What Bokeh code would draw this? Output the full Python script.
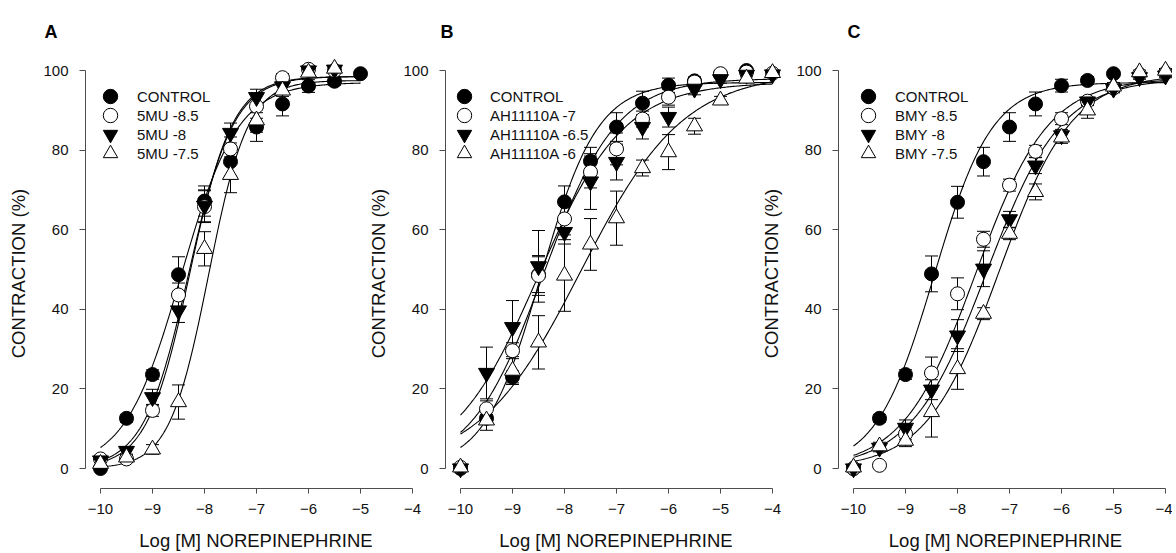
import numpy as np
from bokeh.plotting import figure
from bokeh.models import (ColumnDataSource, Whisker, TeeHead, Legend, LegendItem,
                          FixedTicker, Range1d)
from bokeh.layouts import row
from bokeh.embed import file_html
from bokeh.resources import INLINE

# ---------------- data ----------------
LOG_NE = [-10, -9.5, -9, -8.5, -8, -7.5, -7, -6.5, -6, -5.5, -5, -4.5, -4]
X_TICKS = [-10, -9, -8, -7, -6, -5, -4]
Y_TICKS = [0, 20, 40, 60, 80, 100]

# Panel A : 5MU
A_labels = ["CONTROL", "5MU -8.5", "5MU -8", "5MU -7.5"]
A_ctrl = [0.0, 12.6, 23.6, 48.7, 67.2, 77.1, 85.8, 91.6, 96.1, 97.3, 99.2]
A_ctrl_err = [0.5, 1.0, 1.2, 4.5, 3.8, 3.6, 3.6, 3.0, 1.6, 1.0, 0.5]
A_5mu_85 = [2.4, 2.4, 14.6, 43.6, 65.8, 80.3, 91.0, 98.2, 100.3, 100.0]
A_5mu_85_err = [0.5, 0.8, 1.5, 3.0, 4.0, 3.0, 3.0, 1.0, 1.0, 0.5]
A_5mu_8 = [2.0, 4.4, 17.9, 39.7, 66.0, 84.3, 93.3, 96.0, 100.0, 100.2]
A_5mu_8_err = [0.5, 1.0, 2.0, 3.0, 4.0, 2.5, 2.0, 1.5, 1.0, 0.5]
A_5mu_75 = [1.2, 2.8, 4.8, 16.7, 55.2, 73.8, 87.5, 95.0, 99.5, 100.5]
A_5mu_75_err = [0.5, 0.8, 1.2, 4.3, 4.3, 4.5, 3.0, 1.5, 1.0, 0.5]
# fitted sigmoid parameters: top, log EC50, slope
A_fit_top = [97.0, 98.5, 98.5, 97.5]
A_fit_ec50 = [-8.45, -8.30, -8.28, -7.92]
A_fit_slope = [0.80, 1.00, 1.05, 1.15]

# Panel B : AH11110A
B_labels = ["CONTROL", "AH11110A -7", "AH11110A -6.5", "AH11110A -6"]
B_ctrl = [0.0, 12.6, 23.0, 48.7, 67.0, 77.2, 85.8, 91.8, 96.3, 97.4, 99.0, 100.0]
B_ctrl_err = [0.5, 1.0, 1.5, 4.5, 4.0, 3.5, 3.6, 3.0, 1.8, 1.0, 0.5, 0.5]
B_ah_7 = [0.3, 15.0, 29.6, 48.5, 62.7, 74.5, 80.3, 87.8, 93.3, 97.1, 99.2, 99.6, 99.3]
B_ah_7_err = [0.5, 2.0, 2.0, 5.0, 4.0, 4.0, 4.0, 2.0, 2.0, 1.0, 0.5, 0.5, 0.5]
B_ah_65 = [0.0, 24.0, 35.5, 50.8, 59.4, 72.1, 77.0, 85.8, 88.3, 95.4, 97.8, 98.9, 99.0]
B_ah_65_err = [0.5, 6.5, 6.7, 9.0, 3.0, 7.0, 4.5, 3.0, 2.5, 1.5, 1.0, 0.5, 0.5]
B_ah_6 = [0.3, 12.1, 24.6, 31.7, 48.5, 56.3, 62.9, 75.5, 79.5, 86.0, 92.5, 98.0, 99.4]
B_ah_6_err = [0.5, 2.5, 3.5, 6.7, 9.0, 6.5, 6.8, 2.0, 4.4, 2.0, 1.0, 1.0, 0.5]
B_fit_top = [97.0, 98.0, 97.0, 99.5]
B_fit_ec50 = [-8.45, -8.40, -8.50, -7.68]
B_fit_slope = [0.80, 0.62, 0.53, 0.44]

# Panel C : BMY
C_labels = ["CONTROL", "BMY -8.5", "BMY -8", "BMY -7.5"]
C_ctrl = [0.0, 12.6, 23.6, 48.9, 66.9, 77.1, 85.8, 91.6, 96.2, 97.5, 99.2]
C_ctrl_err = [0.5, 1.0, 1.2, 4.5, 4.0, 3.6, 3.6, 3.0, 1.6, 1.0, 0.5]
C_bmy_85 = [0.0, 0.8, 8.7, 24.0, 43.9, 57.6, 71.2, 79.7, 87.9, 92.3, 95.6, 99.0, 99.4]
C_bmy_85_err = [0.5, 0.5, 1.5, 4.0, 4.0, 2.0, 1.5, 1.5, 1.5, 1.0, 1.0, 0.5, 0.5]
C_bmy_8 = [0.0, 5.2, 10.2, 19.8, 33.4, 50.2, 62.6, 76.1, 83.7, 92.2, 95.4, 98.3, 98.7]
C_bmy_8_err = [0.5, 1.0, 2.0, 2.5, 4.0, 4.5, 2.0, 2.0, 1.5, 1.0, 1.0, 0.5, 0.5]
C_bmy_75 = [0.3, 5.6, 7.0, 14.2, 25.0, 38.9, 59.0, 69.5, 83.2, 90.0, 96.0, 99.6, 100.0]
C_bmy_75_err = [0.5, 1.0, 1.5, 6.3, 5.1, 1.5, 1.5, 2.0, 1.5, 2.0, 1.0, 0.5, 0.5]
C_fit_top = [97.0, 98.0, 98.0, 99.0]
C_fit_ec50 = [-8.45, -7.65, -7.45, -7.20]
C_fit_slope = [0.78, 0.62, 0.60, 0.62]

# ---------------- styling ----------------
FONT = "Liberation Sans"
MARKERS = [("circle", "black", 14), ("circle", "white", 14),
           ("inverted_triangle", "black", 16), ("triangle", "white", 16)]
AXIS_COLOR = "#4d4d4d"
X_START = -10.2885
PX_PER_X = 52.0
Y_START = -5.025
Y_END = 103.02
BORDER_LEFT = 85
LEGEND_ROW_VY = [374, 355, 336, 317]


def sigmoid(x, top, ec50, slope):
    return top / (1.0 + 10 ** ((ec50 - x) * slope))


def make_panel(letter, title_offset, frame_w, margin_left, labels, series, errors,
               fit_top, fit_ec50, fit_slope, fit_end, legend_dx, legend_standoff):
    x_end = X_START + frame_w / PX_PER_X
    p = figure(width=BORDER_LEFT + frame_w, height=553,
               x_range=Range1d(X_START, x_end), y_range=Range1d(Y_START, Y_END),
               output_backend="svg", toolbar_location=None,
               min_border_left=BORDER_LEFT, min_border_right=0,
               min_border_top=58, min_border_bottom=65,
               background_fill_color=None, border_fill_color=None, outline_line_color=None,
               margin=(0, 0, 0, margin_left))
    p.title.text = letter
    p.title.align = "left"
    p.title.offset = title_offset
    p.title.standoff = 33
    p.title.text_font = FONT
    p.title.text_font_size = "18px"
    p.title.text_font_style = "bold"
    p.title.text_color = "black"

    p.xgrid.visible = False
    p.ygrid.visible = False
    for ax in (p.xaxis[0], p.yaxis[0]):
        ax.axis_line_color = AXIS_COLOR
        ax.major_tick_line_color = AXIS_COLOR
        ax.minor_tick_line_color = None
        ax.major_tick_in = 0
        ax.major_tick_out = 6
        ax.major_label_text_font = FONT
        ax.major_label_text_font_size = "15px"
        ax.major_label_text_color = "#111111"
        ax.axis_label_text_font = FONT
        ax.axis_label_text_font_size = "18.5px"
        ax.axis_label_text_font_style = "normal"
        ax.axis_label_text_color = "#111111"
    p.xaxis.bounds = (-10, -4)
    p.yaxis.bounds = (0, 100)
    p.xaxis.ticker = FixedTicker(ticks=X_TICKS)
    p.yaxis.ticker = FixedTicker(ticks=Y_TICKS)
    p.xaxis.major_tick_out = 5
    p.xaxis.major_label_standoff = 10
    p.yaxis.major_label_standoff = 11
    p.xaxis.axis_label_standoff = 13
    p.yaxis.axis_label_standoff = 11
    p.xaxis.axis_label = "Log [M] NOREPINEPHRINE"
    p.yaxis.axis_label = "CONTRACTION (%)"

    # fitted curves
    for top, ec50, slope in zip(fit_top, fit_ec50, fit_slope):
        xs = np.linspace(-10, fit_end, 240)
        p.line(xs, sigmoid(xs, top, ec50, slope), line_color="black", line_width=1.1)

    # error bars
    for ys, es in zip(series, errors):
        n = len(ys)
        src = ColumnDataSource(dict(x=LOG_NE[:n],
                                    upper=[y + e for y, e in zip(ys, es)],
                                    lower=[y - e for y, e in zip(ys, es)]))
        w = Whisker(source=src, base="x", upper="upper", lower="lower",
                    line_color="black", line_width=1,
                    upper_head=TeeHead(size=13, line_color="black", line_width=1),
                    lower_head=TeeHead(size=13, line_color="black", line_width=1))
        p.add_layout(w)

    # markers
    renderers = []
    for ys, (mk, fill, size) in zip(series, MARKERS):
        n = len(ys)
        r = p.scatter(LOG_NE[:n], ys, marker=mk, size=size, fill_color=fill,
                      line_color="black", line_width=1)
        renderers.append(r)

    # one single-entry legend per row (keeps large legend glyphs at tight row pitch)
    for lab, r, vy in zip(labels, renderers, LEGEND_ROW_VY):
        legend = Legend(items=[LegendItem(label=lab, renderers=[r])],
                        location=(legend_dx, vy), orientation="vertical",
                        glyph_width=36, glyph_height=36, spacing=0, padding=0, margin=0,
                        label_standoff=legend_standoff, label_text_font=FONT,
                        label_text_font_size="15px", label_text_color="#111111",
                        background_fill_alpha=0, border_line_color=None)
        p.add_layout(legend)
    return p


pA = make_panel("A", -41, 341, 0, A_labels,
                [A_ctrl, A_5mu_85, A_5mu_8, A_5mu_75],
                [A_ctrl_err, A_5mu_85_err, A_5mu_8_err, A_5mu_75_err],
                A_fit_top, A_fit_ec50, A_fit_slope, -5, 7, 9)
pB = make_panel("B", -5, 341, -66, B_labels,
                [B_ctrl, B_ah_7, B_ah_65, B_ah_6],
                [B_ctrl_err, B_ah_7_err, B_ah_65_err, B_ah_6_err],
                B_fit_top, B_fit_ec50, B_fit_slope, -4, 1, 8)
pC = make_panel("C", 9, 334, -33, C_labels,
                [C_ctrl, C_bmy_85, C_bmy_8, C_bmy_75],
                [C_ctrl_err, C_bmy_85_err, C_bmy_8_err, C_bmy_75_err],
                C_fit_top, C_fit_ec50, C_fit_slope, -4, 12, 9)

layout = row(pA, pB, pC)
open("out.html", "w").write(file_html(layout, INLINE))
